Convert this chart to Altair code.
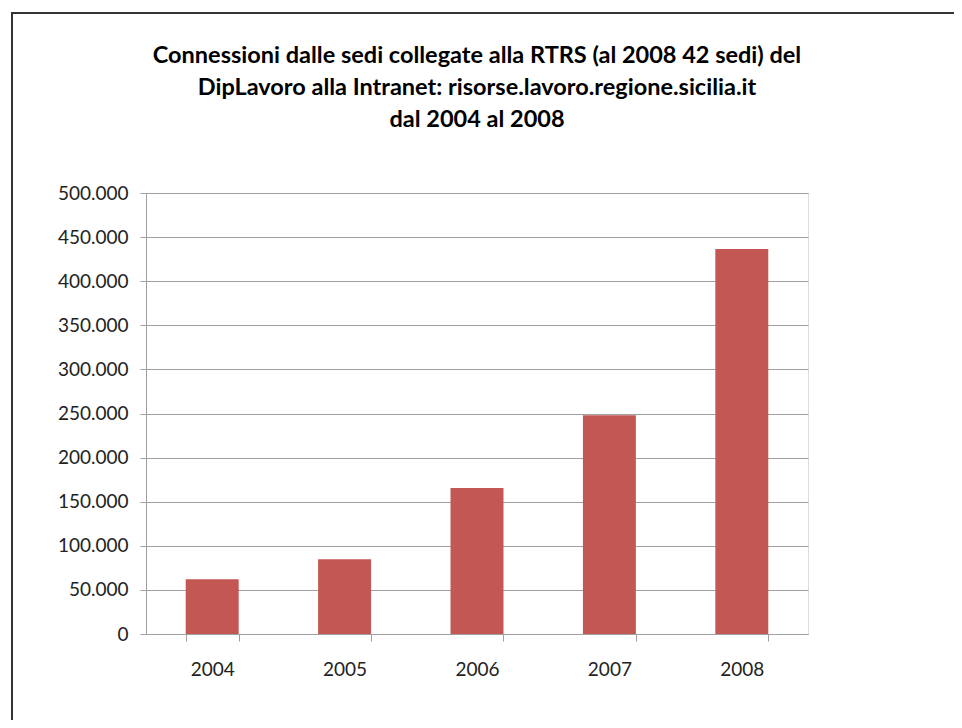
import altair as alt
import pandas as pd

years = ["2004", "2005", "2006", "2007", "2008"]
connections = [62000, 84700, 165500, 248000, 436500]

df = pd.DataFrame({"anno": years, "connessioni": connections})

FONT = "Lato"
GRID = "#A0A0A0"

bars = alt.Chart(df).mark_bar(color="#C35753").encode(
    x=alt.X("anno:N", sort=years,
            scale=alt.Scale(paddingInner=0.6, paddingOuter=0.3),
            axis=alt.Axis(title=None, labelAngle=0, tickBand="extent", tickSize=7,
                          labelPadding=19, domainColor=GRID, tickColor=GRID,
                          labelFontSize=19, labelFont=FONT, labelColor="#222222")),
    y=alt.Y("connessioni:Q", scale=alt.Scale(domain=[0, 500000], nice=False),
            axis=alt.Axis(title=None, values=list(range(0, 500001, 50000)),
                          labelExpr="replace(format(datum.value, ','), ',', '.')",
                          tickSize=6, labelPadding=12, domain=True,
                          domainColor=GRID, tickColor=GRID,
                          gridColor=GRID, labelFontSize=19, labelFont=FONT,
                          labelColor="#222222")),
)

frame_df = pd.DataFrame({"k": [1]})
left_line = alt.Chart(frame_df).mark_rule(color="#333333", strokeWidth=2).encode(
    x=alt.value(-134), y=alt.value(-181), y2=alt.value(700))
top_line = alt.Chart(frame_df).mark_rule(color="#333333", strokeWidth=2).encode(
    x=alt.value(-135), x2=alt.value(900), y=alt.value(-180))

chart = alt.layer(bars, left_line, top_line).properties(
    width=662, height=441,
    padding={"left": 138, "top": 185, "right": 146, "bottom": 86},
    autosize=alt.AutoSizeParams(type="none"),
    title=alt.TitleParams(
        text=["Connessioni dalle sedi collegate alla RTRS (al 2008 42 sedi) del",
              "DipLavoro alla Intranet: risorse.lavoro.regione.sicilia.it",
              "dal 2004 al 2008"],
        font=FONT, fontSize=23.5, fontWeight="bold", color="#000000",
        anchor="middle", lineHeight=32, offset=-120),
).configure_view(stroke=None).configure(background="white")

chart.save("out.html", embed_options={"renderer": "svg", "actions": False})
